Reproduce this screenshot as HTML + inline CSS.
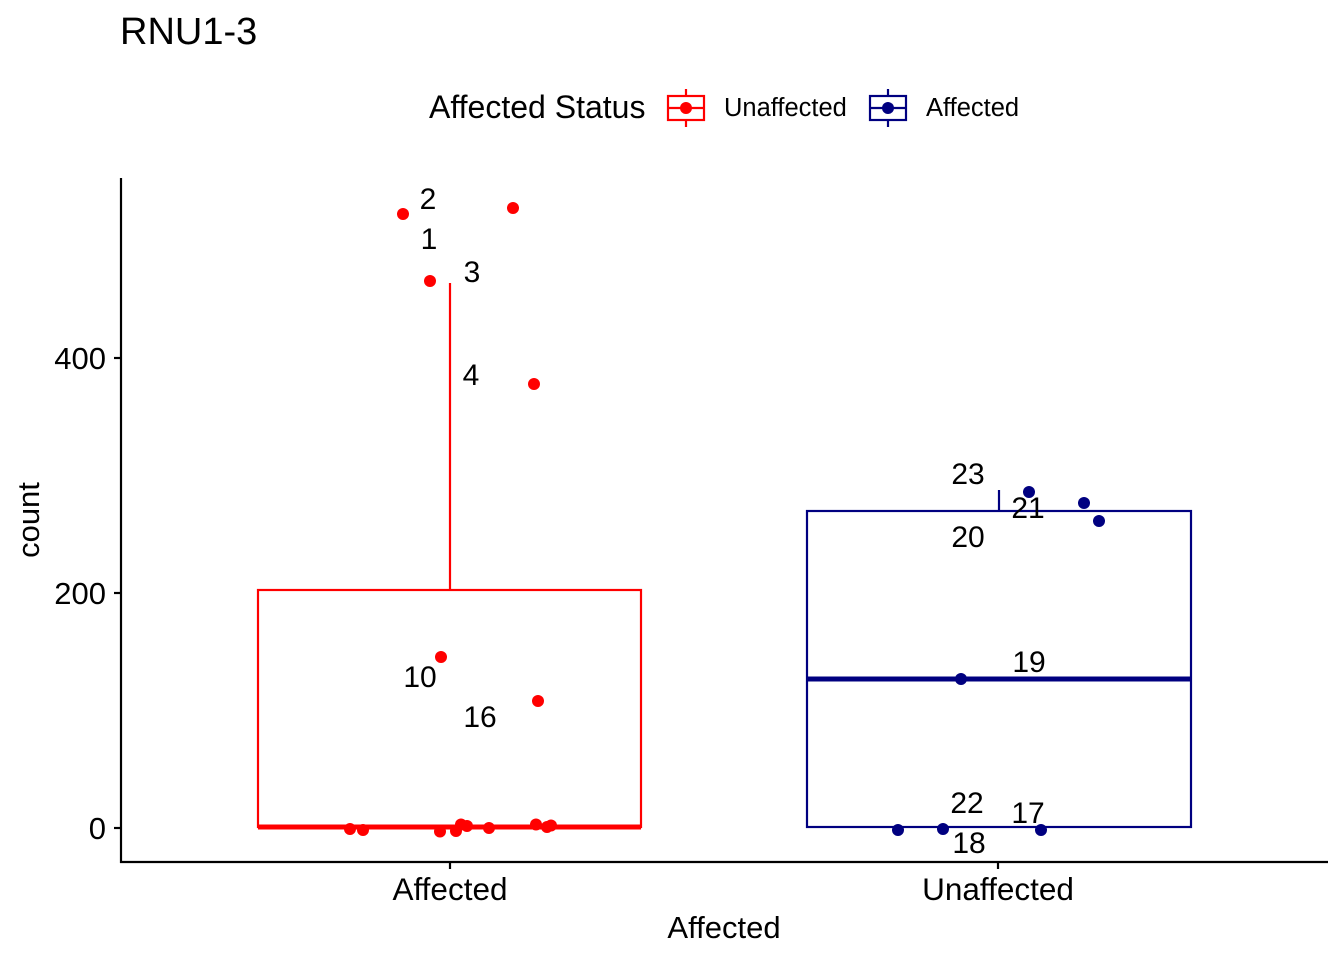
<!DOCTYPE html>
<html>
<head>
<meta charset="utf-8">
<style>
  html, body { margin: 0; padding: 0; background: #ffffff; }
  svg { display: block; }
  text { font-family: "Liberation Sans", Arial, sans-serif; fill: #000; }
</style>
</head>
<body>
<svg width="1344" height="960" viewBox="0 0 1344 960" xmlns="http://www.w3.org/2000/svg">
  <rect x="0" y="0" width="1344" height="960" fill="#ffffff"/>

  <!-- Title -->
  <text x="120" y="44" font-size="38">RNU1-3</text>

  <!-- Legend -->
  <text x="429" y="118" font-size="32">Affected Status</text>
  <!-- Unaffected key (red) -->
  <g stroke="#FF0000" stroke-width="2.2" fill="#ffffff">
    <line x1="686" y1="89" x2="686" y2="96"/>
    <line x1="686" y1="120" x2="686" y2="127"/>
    <rect x="668" y="96" width="36" height="24"/>
    <line x1="668" y1="108" x2="704" y2="108"/>
  </g>
  <circle cx="686" cy="108" r="6" fill="#FF0000"/>
  <text x="724" y="116" font-size="25.5">Unaffected</text>
  <!-- Affected key (navy) -->
  <g stroke="#000080" stroke-width="2.2" fill="#ffffff">
    <line x1="888" y1="89" x2="888" y2="96"/>
    <line x1="888" y1="120" x2="888" y2="127"/>
    <rect x="870" y="96" width="36" height="24"/>
    <line x1="870" y1="108" x2="906" y2="108"/>
  </g>
  <circle cx="888" cy="108" r="6" fill="#000080"/>
  <text x="926" y="116" font-size="25.5">Affected</text>

  <!-- Red boxplot (Affected) -->
  <line x1="450" y1="283" x2="450" y2="590" stroke="#FF0000" stroke-width="2.2"/>
  <rect x="258" y="590" width="383" height="237" fill="none" stroke="#FF0000" stroke-width="2.2"/>
  <line x1="258" y1="827" x2="641" y2="827" stroke="#FF0000" stroke-width="5"/>

  <!-- Blue boxplot (Unaffected) -->
  <line x1="999" y1="490" x2="999" y2="511" stroke="#000080" stroke-width="2.2"/>
  <rect x="807" y="511" width="384" height="316" fill="none" stroke="#000080" stroke-width="2.2"/>
  <line x1="807" y1="679" x2="1191" y2="679" stroke="#000080" stroke-width="5"/>

  <!-- Red points -->
  <g fill="#FF0000">
    <circle cx="403" cy="214" r="6"/>
    <circle cx="513" cy="208" r="6"/>
    <circle cx="430" cy="281" r="6"/>
    <circle cx="534" cy="384" r="6"/>
    <circle cx="441" cy="657" r="6"/>
    <circle cx="538" cy="701" r="6"/>
    <circle cx="350" cy="829" r="6"/>
    <circle cx="363" cy="830" r="6"/>
    <circle cx="440" cy="831.5" r="6"/>
    <circle cx="456" cy="831" r="6"/>
    <circle cx="461" cy="824.5" r="6"/>
    <circle cx="467" cy="826" r="6"/>
    <circle cx="489" cy="828" r="6"/>
    <circle cx="536" cy="824.5" r="6"/>
    <circle cx="547" cy="827" r="6"/>
    <circle cx="551" cy="825.5" r="6"/>
  </g>

  <!-- Blue points -->
  <g fill="#000080">
    <circle cx="1029" cy="492" r="6"/>
    <circle cx="1084" cy="503" r="6"/>
    <circle cx="1099" cy="521" r="6"/>
    <circle cx="961" cy="679" r="6"/>
    <circle cx="898" cy="830" r="6"/>
    <circle cx="943" cy="829" r="6"/>
    <circle cx="1041" cy="830" r="6"/>
  </g>

  <!-- Point labels -->
  <g font-size="30" text-anchor="middle">
    <text x="428" y="209">2</text>
    <text x="429" y="249">1</text>
    <text x="472" y="282">3</text>
    <text x="471" y="385">4</text>
    <text x="420" y="687">10</text>
    <text x="480" y="727">16</text>
    <text x="968" y="484">23</text>
    <text x="1028" y="518">21</text>
    <text x="968" y="547">20</text>
    <text x="1029" y="672">19</text>
    <text x="967" y="813">22</text>
    <text x="1028" y="823">17</text>
    <text x="969" y="853">18</text>
  </g>

  <!-- Axes -->
  <g stroke="#000" stroke-width="2.2">
    <line x1="121" y1="178" x2="121" y2="863"/>
    <line x1="120" y1="862" x2="1328" y2="862"/>
    <line x1="114" y1="358" x2="121" y2="358"/>
    <line x1="114" y1="593" x2="121" y2="593"/>
    <line x1="114" y1="828" x2="121" y2="828"/>
    <line x1="450" y1="862" x2="450" y2="869"/>
    <line x1="998" y1="862" x2="998" y2="869"/>
  </g>

  <!-- Y tick labels -->
  <g font-size="31" text-anchor="end">
    <text x="106" y="369">400</text>
    <text x="106" y="604">200</text>
    <text x="106" y="839">0</text>
  </g>

  <!-- X tick labels -->
  <g font-size="31.5" text-anchor="middle">
    <text x="450" y="900">Affected</text>
    <text x="998" y="900">Unaffected</text>
  </g>

  <!-- Axis titles -->
  <text x="724" y="938" font-size="31" text-anchor="middle">Affected</text>
  <text transform="translate(39,520) rotate(-90)" font-size="31" text-anchor="middle">count</text>
</svg>
</body>
</html>
